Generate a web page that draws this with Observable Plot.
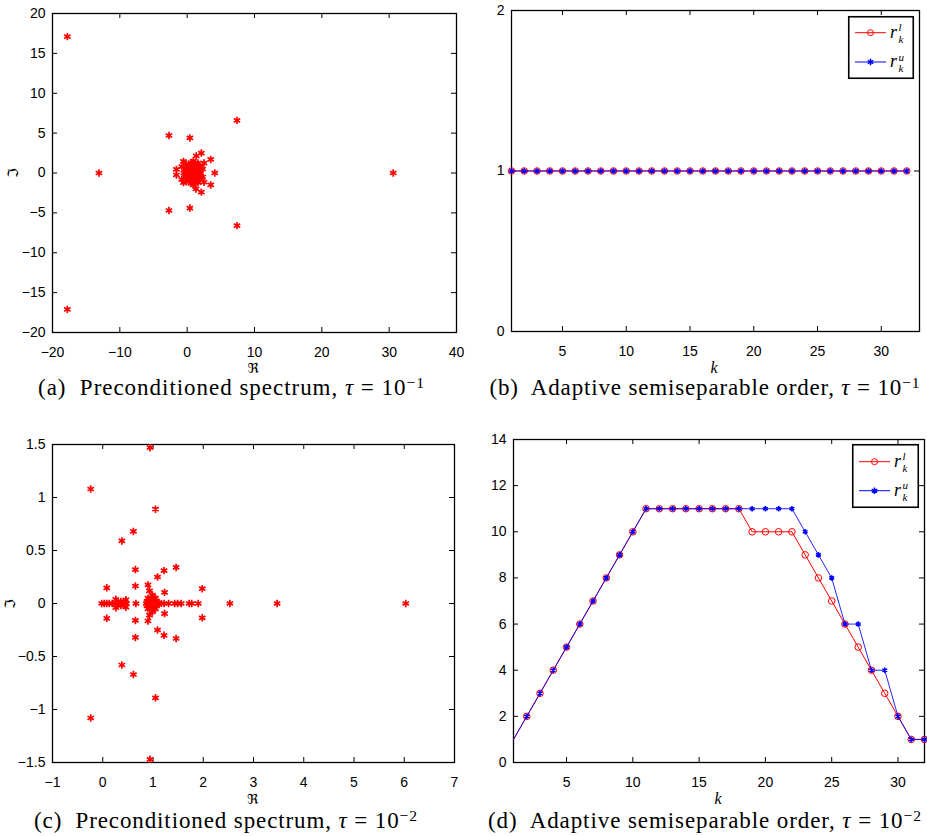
<!DOCTYPE html>
<html><head><meta charset="utf-8">
<script src="https://cdn.jsdelivr.net/npm/d3@7"></script>
<script src="https://cdn.jsdelivr.net/npm/@observablehq/plot@0.6"></script>
<style>
body{margin:0;background:#fff;}
#root{position:relative;width:927px;height:836px;overflow:hidden;background:#fff;}
.panel{position:absolute;}
.panel svg{overflow:visible;}
.cap{position:absolute;text-align:left;font-family:"Liberation Serif",serif;font-size:23px;line-height:26px;white-space:nowrap;color:#000;}
.cap sup{font-size:0.68em;line-height:0;vertical-align:0.45em;}
.lab{position:absolute;font-family:"DejaVu Serif","DejaVu Sans",serif;font-size:14px;line-height:14px;white-space:nowrap;}
</style></head><body><div id="root"></div>
<script>
// ---------- data ----------
// (a) preconditioned spectrum, tau = 1e-1 (real and imaginary parts)
const aRe = [-17.8,-17.8,-13.1,30.6,7.4,7.4,-2.7,-2.7,0.4,0.4,2.1,2.1,1.35,1.3,3.5,3.5,4.1,-1.6,-1.6,-0.55,-0.55,2.5,2.5,1.6,1.6,2.3,2.3,
  0.0,0.2,0.2,0.5,0.5,0.8,0.8,1.0,1.0,0.3,0.3,-0.3,-0.3,1.3,1.3,0.6,0.6,1.1,0.4,-0.5,1.6,1.6,1.9,1.9,0.9,0.9,-0.1,-0.1,1.5,1.5,0.7,0.7,1.2,1.2,-0.8,-0.8,2.0,0.1,0.1,1.8,1.8];
const aIm = [17.1,-17.1,0,0,6.6,-6.6,4.7,-4.7,4.4,-4.4,2.5,-2.4,2.15,-2.0,1.7,-1.5,0,0.45,-0.25,1.45,-1.2,1.25,-1.15,1.25,-1.2,0.5,-0.5,
  0,0.3,-0.3,0.6,-0.6,0.2,-0.2,0.9,-0.9,1.0,-1.0,0.5,-0.5,0.5,-0.5,1.3,-1.3,0.0,0,0,0.2,-0.2,0.8,-0.8,1.5,-1.5,1.1,-1.1,1.0,-1.0,0.4,-0.4,1.2,-1.2,0.8,-0.8,0,0.7,-0.7,0.4,-0.4];

// (c) preconditioned spectrum, tau = 1e-2
const cRe = [0.94,0.94,-0.24,-0.24,1.05,1.05,0.61,0.61,0.38,0.38,1.46,1.46,1.22,1.22,1.09,1.09,0.65,0.65,0.65,0.65,0.08,0.08,1.98,1.98,1.23,1.23,0.9,0.9,0.93,0.93,
  -0.02,0.03,0.08,0.13,0.19,0.26,0.31,0.35,0.40,0.47,0.66,0.87,1.22,1.31,1.43,1.49,1.56,1.72,1.77,1.90,2.53,3.47,6.03,
  0.26,0.26,0.46,0.46,0.36,0.36,
  0.90,0.90,0.95,0.95,1.0,1.0,1.03,1.03,0.97,1.05,1.05,0.92,1.08,0.99,0.99,1.12,1.12,0.88,0.88];
const cIm = [1.47,-1.47,1.08,-1.08,0.89,-0.89,0.68,-0.67,0.59,-0.58,0.34,-0.33,0.31,-0.30,0.25,-0.25,0.32,-0.32,0.165,-0.16,0.148,-0.14,0.14,-0.135,0.105,-0.095,0.175,-0.165,0.12,-0.11,
  0,0,0,0,0,0,0,0,0,0,0,0,0,0,0,0,0,0,0,0,0,0,0,
  0.04,-0.04,0.035,-0.035,0.02,-0.02,
  0.05,-0.05,0.03,-0.03,0.06,-0.06,0.02,-0.02,0,0.05,-0.05,0,0,0.08,-0.08,0.01,-0.01,0.02,-0.02];

// (b),(d) adaptive semiseparable order
const kVals = [1,2,3,4,5,6,7,8,9,10,11,12,13,14,15,16,17,18,19,20,21,22,23,24,25,26,27,28,29,30,31,32];
const bRl = [1,1,1,1,1,1,1,1,1,1,1,1,1,1,1,1,1,1,1,1,1,1,1,1,1,1,1,1,1,1,1,1];
const bRu = [1,1,1,1,1,1,1,1,1,1,1,1,1,1,1,1,1,1,1,1,1,1,1,1,1,1,1,1,1,1,1,1];
const dRl = [1,2,3,4,5,6,7,8,9,10,11,11,11,11,11,11,11,11,10,10,10,10,9,8,7,6,5,4,3,2,1,1];
const dRu = [1,2,3,4,5,6,7,8,9,10,11,11,11,11,11,11,11,11,11,11,11,11,10,9,8,6,6,4,4,2,1,1];

// ticks
const aXTicks = [-20,-10,0,10,20,30,40];
const aYTicks = [-20,-15,-10,-5,0,5,10,15,20];
const bXTicks = [5,10,15,20,25,30];
const bYTicks = [0,1,2];
const cXTicks = [-1,0,1,2,3,4,5,6,7];
const cYTicks = [-1.5,-1,-0.5,0,0.5,1,1.5];
const dXTicks = [5,10,15,20,25,30];
const dYTicks = [0,2,4,6,8,10,12,14];

const captions = {
  a: '(a)&nbsp; Preconditioned spectrum, <i>τ</i> = 10<sup>−1</sup>',
  b: '(b)&nbsp; Adaptive semiseparable order, <i>τ</i> = 10<sup>−1</sup>',
  c: '(c)&nbsp; Preconditioned spectrum, <i>τ</i> = 10<sup>−2</sup>',
  d: '(d)&nbsp; Adaptive semiseparable order, <i>τ</i> = 10<sup>−2</sup>'
};

// ---------- helpers ----------
const root = document.getElementById("root");
const fmt = d3.format("~g");
const tickFont = "'Liberation Sans', Arial, sans-serif";

function makePanel(o) {
  const fw = o.fr - o.fl, fh = o.fb - o.ft;
  const ml = o.fl - o.left, mt = o.ft - o.top;
  const mr = o.left + o.width - o.fr, mb = o.top + o.height - o.fb;
  const marks = [
    Plot.frame({stroke: "#000", strokeWidth: 1.3}),
    Plot.ruleX(o.xTicks, {x: d => d, insetTop: fh - 5, stroke: "#000"}),
    Plot.ruleX(o.xTicks, {x: d => d, insetBottom: fh - 5, stroke: "#000"}),
    Plot.ruleY(o.yTicks, {y: d => d, insetRight: fw - 5, stroke: "#000"}),
    Plot.ruleY(o.yTicks, {y: d => d, insetLeft: fw - 5, stroke: "#000"}),
    Plot.axisX({ticks: o.xTicks, tickSize: 0, tickPadding: 15, label: null, tickFormat: fmt}),
    Plot.axisY({ticks: o.yTicks, tickSize: 0, tickPadding: 7, label: null, tickFormat: fmt}),
    ...o.marks
  ];
  const svg = Plot.plot({
    width: o.width, height: o.height,
    marginLeft: ml, marginRight: mr, marginTop: mt, marginBottom: mb,
    x: {domain: o.xDomain}, y: {domain: o.yDomain},
    style: {fontFamily: tickFont, fontSize: "14px", color: "#000", background: "transparent", overflow: "visible"},
    marks
  });
  const div = document.createElement("div");
  div.className = "panel";
  div.style.left = o.left + "px";
  div.style.top = o.top + "px";
  div.appendChild(svg);
  root.appendChild(div);
}

function addLabel(text, cx, cy, rotate, italic) {
  const d = document.createElement("div");
  d.className = "lab";
  d.textContent = text;
  d.style.left = cx + "px";
  d.style.top = cy + "px";
  if (italic) { d.style.fontStyle = "italic"; d.style.fontFamily = "'Liberation Serif', serif"; d.style.fontSize = "16px"; }
  d.style.transform = "translate(-50%,-50%)" + (rotate ? " rotate(-90deg)" : "");
  root.appendChild(d);
}

function addCaption(html, cx, top, targetWidth) {
  const d = document.createElement("div");
  d.className = "cap";
  d.innerHTML = html;
  d.style.top = top + "px";
  root.appendChild(d);
  // widen the letter spacing so the caption spans the width it has in the reference
  const n = d.textContent.length;
  const w0 = d.getBoundingClientRect().width;
  const ls = Math.max(0, (targetWidth - w0) / n);
  d.style.letterSpacing = ls + "px";
  const w = d.getBoundingClientRect().width;
  d.style.left = (cx - w / 2) + "px";
}

function addLegend(left, top, w, h, row1, row2) {
  const svg = d3.create("svg").attr("width", w).attr("height", h).style("position", "absolute").style("left", left + "px").style("top", top + "px").style("overflow", "visible");
  svg.append("rect").attr("x", 0.75).attr("y", 0.75).attr("width", w - 1.5).attr("height", h - 1.5).attr("fill", "#fff").attr("stroke", "#000").attr("stroke-width", 1.6);
  const rows = [{y: row1, color: "red", sup: "l"}, {y: row2, color: "blue", sup: "u"}];
  for (const r of rows) {
    svg.append("line").attr("x1", 7).attr("x2", 38).attr("y1", r.y).attr("y2", r.y).attr("stroke", r.color).attr("stroke-width", 1);
    if (r.color === "red") {
      svg.append("circle").attr("cx", 22.5).attr("cy", r.y).attr("r", 3).attr("fill", "none").attr("stroke", "red").attr("stroke-width", 1);
    } else {
      svg.append("path").attr("d", d3.symbol(d3.symbolAsterisk, 28)()).attr("transform", `translate(22.5,${r.y})`).attr("fill", "none").attr("stroke", "blue").attr("stroke-width", 1.5);
    }
    const g = svg.append("g").attr("font-family", "'Liberation Serif', serif").attr("font-style", "italic").attr("fill", "#000");
    g.append("text").attr("x", 42).attr("y", r.y + 5).attr("font-size", 18).text("r");
    g.append("text").attr("x", 50.5).attr("y", r.y - 1.5).attr("font-size", 11).text(r.sup);
    g.append("text").attr("x", 50.5).attr("y", r.y + 10).attr("font-size", 11).text("k");
  }
  root.appendChild(svg.node());
}

// ---------- panels ----------
const aData = aRe.map((re, i) => ({re, im: aIm[i]}));
const cData = cRe.map((re, i) => ({re, im: cIm[i]}));
const bData = kVals.map((k, i) => ({k, rl: bRl[i], ru: bRu[i]}));
const dData = kVals.map((k, i) => ({k, rl: dRl[i], ru: dRu[i]}));

const starRed = {x: "re", y: "im", symbol: "asterisk", r: 3.5, stroke: "red", strokeWidth: 1.7, fill: "none"};

function orderMarks(data, dotFilter) {
  const dd = dotFilter ? data.filter(dotFilter) : data;
  return [
    Plot.line(data, {x: "k", y: "rl", stroke: "red", strokeWidth: 1}),
    Plot.dot(dd, {x: "k", y: "rl", symbol: "circle", r: 3.3, stroke: "red", strokeWidth: 1, fill: "none"}),
    Plot.line(data, {x: "k", y: "ru", stroke: "blue", strokeWidth: 1, strokeOpacity: 0.85}),
    Plot.dot(dd, {x: "k", y: "ru", symbol: "asterisk", r: 2.6, stroke: "blue", strokeWidth: 1.6, fill: "none"})
  ];
}

makePanel({left: 0, top: 0, width: 465, height: 360, fl: 52, fr: 456, ft: 13, fb: 332,
  xDomain: [-20, 40], yDomain: [-20, 20], xTicks: aXTicks, yTicks: aYTicks,
  marks: [Plot.dot(aData, starRed)]});
makePanel({left: 460, top: 0, width: 467, height: 360, fl: 511, fr: 919, ft: 10, fb: 331,
  xDomain: [1, 33], yDomain: [0, 2], xTicks: bXTicks, yTicks: bYTicks,
  marks: orderMarks(bData)});
makePanel({left: 0, top: 420, width: 465, height: 360, fl: 52, fr: 454, ft: 444, fb: 762,
  xDomain: [-1, 7], yDomain: [-1.5, 1.5], xTicks: cXTicks, yTicks: cYTicks,
  marks: [Plot.dot(cData, starRed)]});
makePanel({left: 460, top: 420, width: 467, height: 360, fl: 513, fr: 924, ft: 439, fb: 762,
  xDomain: [1, 32], yDomain: [0, 14], xTicks: dXTicks, yTicks: dYTicks,
  marks: orderMarks(dData, d => d.k > 1)});

addLabel("ℜ", 253.5, 368);
addLabel("ℑ", 13, 172.5, true);
addLabel("k", 714, 368, false, true);
addLabel("ℜ", 253, 799);
addLabel("ℑ", 10, 604, true);
addLabel("k", 718, 799, false, true);

addLegend(848, 16, 66, 63, 16.7, 46);
addLegend(852, 444, 67, 64, 17.7, 46.7);

addCaption(captions.a, 231.5, 374.5, 387);
addCaption(captions.b, 705, 374.5, 431);
addCaption(captions.c, 226, 807.5, 384);
addCaption(captions.d, 705, 807.5, 434);
</script></body></html>
